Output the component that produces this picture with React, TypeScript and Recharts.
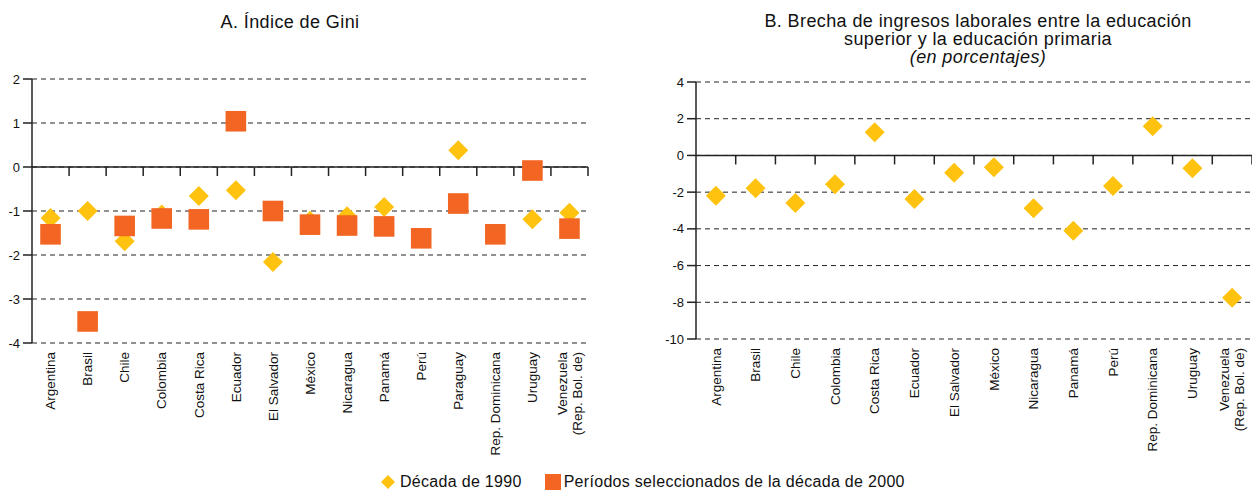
import { ComposedChart, Scatter, XAxis, YAxis, CartesianGrid, ReferenceLine } from 'recharts';

const giniCountries = ['Argentina', 'Brasil', 'Chile', 'Colombia', 'Costa Rica', 'Ecuador', 'El Salvador', 'México',
    'Nicaragua', 'Panamá', 'Perú', 'Paraguay', 'Rep. Dominicana', 'Uruguay', 'Venezuela\n(Rep. Bol. de)'];
const gini1990 = [-1.16, -1.0, -1.69, -1.08, -0.66, -0.53, -2.16, -1.22, -1.12, -0.91, null, 0.38, null, -1.19, -1.04];
const gini2000 = [-1.53, -3.51, -1.34, -1.17, -1.19, 1.04, -1.0, -1.31, -1.33, -1.35, -1.62, -0.83, -1.53, -0.08, -1.4];
const giniTicks = [-4, -3, -2, -1, 0, 1, 2];

const brechaCountries = ['Argentina', 'Brasil', 'Chile', 'Colombia', 'Costa Rica', 'Ecuador', 'El Salvador', 'México',
    'Nicaragua', 'Panamá', 'Perú', 'Rep. Dominicana', 'Uruguay', 'Venezuela\n(Rep. Bol. de)'];
const brecha1990 = [-2.19, -1.79, -2.59, -1.57, 1.26, -2.37, -0.94, -0.64, -2.88, -4.1, -1.66, 1.59, -0.7, -7.75];
const brechaTicks = [-10, -8, -6, -4, -2, 0, 2, 4];

const YELLOW = '#FFC20E';
const ORANGE = '#F26522';
const FONT = '"Liberation Sans", Arial, sans-serif';

// each country sits in the middle of its own slot on a 0..n axis
const giniData = giniCountries.map((name, i) => ({ x: i + 0.5, name, d1990: gini1990[i], d2000: gini2000[i] }));
const brechaData = brechaCountries.map((name, i) => ({ x: i + 0.5, name, d1990: brecha1990[i] }));

const diamond = (key: string) => (p: any) => {
    const { cx, cy, payload } = p;
    if (payload?.[key] == null || !isFinite(cx) || !isFinite(cy)) return <g />;
    const r = 10;
    return <polygon points={`${cx},${cy - r} ${cx + r},${cy} ${cx},${cy + r} ${cx - r},${cy}`} fill={YELLOW} />;
};

const square = (key: string) => (p: any) => {
    const { cx, cy, payload } = p;
    if (payload?.[key] == null || !isFinite(cx) || !isFinite(cy)) return <g />;
    const h = 10.3;
    return <rect x={cx - h} y={cy - h} width={h * 2} height={h * 2} fill={ORANGE} />;
};

// solid zero line with the category tick marks hanging below it
const zeroAxis = (n: number) => (p: any) => {
    const { x1, y1, x2 } = p;
    const step = (x2 - x1) / n;
    return (
        <g>
            <line x1={x1} y1={y1} x2={x2} y2={y1} stroke="#222" strokeWidth={1.5} />
            {Array.from({ length: n }, (_, i) => (
                <line key={i} x1={x1 + step * (i + 1)} x2={x1 + step * (i + 1)} y1={y1} y2={y1 + 9}
                    stroke="#222" strokeWidth={1.5} />
            ))}
        </g>
    );
};

const catTick = (names: string[]) => (p: any) => {
    const { x, y, payload } = p;
    const name = names[Math.round(payload.value - 0.5)] ?? '';
    const lines = name.split('\n');
    return (
        <text transform={`translate(${x},${y + 1}) rotate(-90)`} textAnchor="end" fontSize={13.5} fill="#111"
            fontFamily={FONT}>
            {lines.map((l, i) => (
                <tspan key={i} x={0} dy={i === 0 ? `${0.35 - (lines.length - 1) * 0.55}em` : '1.1em'}>{l}</tspan>
            ))}
        </text>
    );
};

const yTick = { fontSize: 13, fill: '#111', fontFamily: FONT };

export default function App() {
    return (
        <div style={{ position: 'absolute', left: 0, top: 0, width: 1252, height: 490, overflow: 'hidden',
            background: '#fff', fontFamily: FONT, color: '#111' }}>
            <div style={{ position: 'absolute', left: 0, top: 13, width: 580, textAlign: 'center', fontSize: 18,
                letterSpacing: 0.4, lineHeight: '18px' }}>
                A. Índice de Gini
            </div>
            <div style={{ position: 'absolute', left: 718, top: 12, width: 520, textAlign: 'center', fontSize: 18,
                letterSpacing: 0.4, lineHeight: '18px' }}>
                B. Brecha de ingresos laborales entre la educación<br />
                superior y la educación primaria<br />
                <i>(en porcentajes)</i>
            </div>

            <div style={{ position: 'absolute', left: 0, top: 0 }}>
                <ComposedChart width={600} height={470} data={giniData}
                    margin={{ top: 79, right: 12, bottom: 17, left: 0 }}>
                    <CartesianGrid vertical={false} strokeDasharray="5 4" stroke="#222" />
                    <XAxis type="number" dataKey="x" domain={[0, giniCountries.length]}
                        ticks={giniData.map(d => d.x)} interval={0} axisLine={false} tickLine={false}
                        height={110} tick={catTick(giniCountries)} />
                    <YAxis type="number" domain={[-4, 2]} ticks={giniTicks} interval={0} width={32}
                        axisLine={{ stroke: '#222', strokeWidth: 1.5 }} tickLine={{ stroke: '#222', strokeWidth: 1.5 }}
                        tickSize={9} tickMargin={3} tick={yTick} />
                    <ReferenceLine y={0} shape={zeroAxis(giniCountries.length)} />
                    <Scatter dataKey="d1990" fill={YELLOW} shape={diamond('d1990')} isAnimationActive={false} />
                    <Scatter dataKey="d2000" fill={ORANGE} shape={square('d2000')} isAnimationActive={false} />
                </ComposedChart>
            </div>

            <div style={{ position: 'absolute', left: 640, top: 0 }}>
                <ComposedChart width={612} height={470} data={brechaData}
                    margin={{ top: 82, right: 0, bottom: 21, left: 0 }}>
                    <CartesianGrid vertical={false} strokeDasharray="5 4" stroke="#222" />
                    <XAxis type="number" dataKey="x" domain={[0, brechaCountries.length]}
                        ticks={brechaData.map(d => d.x)} interval={0} axisLine={false} tickLine={false}
                        height={110} tick={catTick(brechaCountries)} />
                    <YAxis type="number" domain={[-10, 4]} ticks={brechaTicks} interval={0} width={56}
                        axisLine={{ stroke: '#222', strokeWidth: 1.5 }} tickLine={{ stroke: '#222', strokeWidth: 1.5 }}
                        tickSize={9} tickMargin={3} tick={yTick} />
                    <ReferenceLine y={0} shape={zeroAxis(brechaCountries.length)} />
                    <Scatter dataKey="d1990" fill={YELLOW} shape={diamond('d1990')} isAnimationActive={false} />
                </ComposedChart>
            </div>

            <div style={{ position: 'absolute', left: 381, top: 473, display: 'flex', alignItems: 'center',
                fontSize: 16, letterSpacing: 0.3, whiteSpace: 'nowrap' }}>
                <svg width={14} height={14} style={{ marginRight: 5 }}>
                    <polygon points="7,0 14,7 7,14 0,7" fill={YELLOW} />
                </svg>
                <span>Década de 1990</span>
                <svg width={16} height={16} style={{ marginLeft: 23, marginRight: 3 }}>
                    <rect x={0} y={0} width={16} height={16} fill={ORANGE} />
                </svg>
                <span>Períodos seleccionados de la década de 2000</span>
            </div>
        </div>
    );
}
